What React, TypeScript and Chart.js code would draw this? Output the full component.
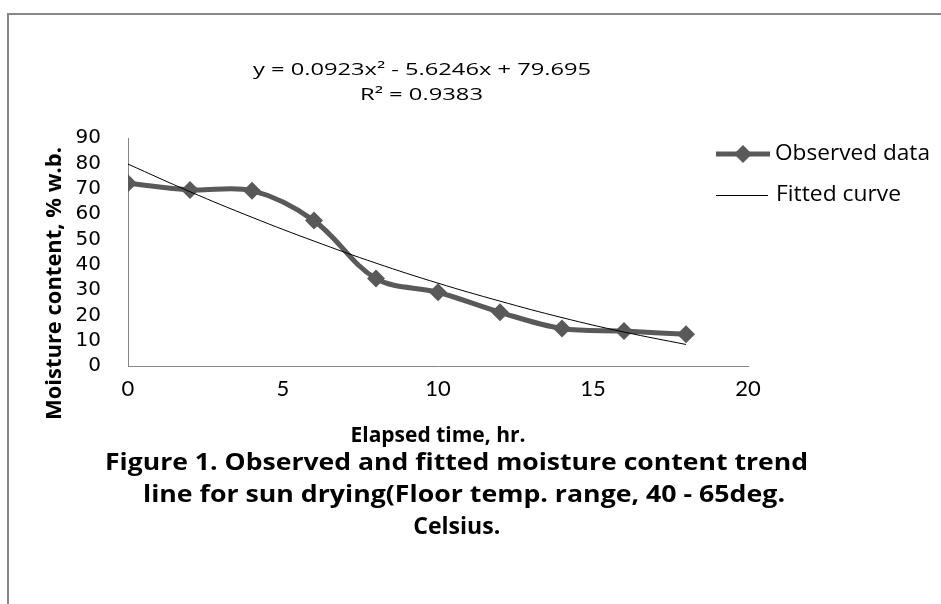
import React, { useEffect, useRef } from "react";
import { Chart, registerables } from "chart.js";

Chart.register(...registerables);

// ---- data ----
const elapsedHours = [0, 2, 4, 6, 8, 10, 12, 14, 16, 18];
const observedMoisture = [72.1, 69.5, 69.2, 57.4, 34.5, 29.1, 21.2, 14.8, 13.8, 12.5];
const fittedMoisture = [79.7, 68.8, 58.7, 49.3, 40.6, 32.7, 25.6, 19.1, 13.4, 8.5];
const xTickValues = [0, 5, 10, 15, 20];
const yTickValues = [0, 10, 20, 30, 40, 50, 60, 70, 80, 90];
const seriesNames = ["Observed data", "Fitted curve"];
const equationLines = ["y = 0.0923x\u00B2 - 5.6246x + 79.695", "R\u00B2 = 0.9383"];
const xAxisTitle = "Elapsed time, hr.";
const yAxisTitle = "Moisture content, % w.b.";
const captionLines = [
  "Figure 1. Observed and fitted moisture content trend",
  "line for sun drying(Floor temp. range, 40 - 65deg.",
  "Celsius.",
];

const OBS_COLOR = "#595959";
const FONT = "'Open Sans', Lato, sans-serif";

function fitText(
  ctx: CanvasRenderingContext2D,
  text: string,
  cx: number,
  cy: number,
  width: number,
  font: string,
  rotate = 0
) {
  ctx.save();
  ctx.font = font;
  const w = ctx.measureText(text).width || 1;
  ctx.translate(cx, cy);
  if (rotate) ctx.rotate(rotate);
  ctx.scale(width / w, 1);
  ctx.textAlign = "center";
  ctx.textBaseline = "middle";
  ctx.fillText(text, 0, 0);
  ctx.restore();
}

const overlayPlugin = {
  id: "overlay",
  afterDraw(chart: any) {
    const ctx = chart.ctx as CanvasRenderingContext2D;
    ctx.save();
    ctx.fillStyle = "#000";

    // trendline equation
    fitText(ctx, equationLines[0], 422, 70, 338, `16.5px ${FONT}`);
    fitText(ctx, equationLines[1], 421.5, 95, 123, `16.5px ${FONT}`);

    // legend
    ctx.strokeStyle = OBS_COLOR;
    ctx.lineWidth = 5;
    ctx.beginPath();
    ctx.moveTo(716, 154);
    ctx.lineTo(770, 154);
    ctx.stroke();
    ctx.fillStyle = OBS_COLOR;
    ctx.beginPath();
    ctx.moveTo(743, 145);
    ctx.lineTo(752, 154);
    ctx.lineTo(743, 163);
    ctx.lineTo(734, 154);
    ctx.closePath();
    ctx.fill();
    ctx.strokeStyle = "#000";
    ctx.lineWidth = 1;
    ctx.beginPath();
    ctx.moveTo(716, 195.5);
    ctx.lineTo(768, 195.5);
    ctx.stroke();
    ctx.fillStyle = "#000";
    fitText(ctx, seriesNames[0], 775 + 155 / 2, 154, 155, `22px ${FONT}`);
    fitText(ctx, seriesNames[1], 776 + 125 / 2, 195, 125, `22px ${FONT}`);

    // y axis title
    fitText(ctx, yAxisTitle, 55, 283.5, 273, `bold 21px ${FONT}`, -Math.PI / 2);

    // caption
    fitText(ctx, captionLines[0], 456.5, 463, 703, `bold 23px ${FONT}`);
    fitText(ctx, captionLines[1], 464, 495, 642, `bold 23px ${FONT}`);
    fitText(ctx, captionLines[2], 456.7, 527, 87, `bold 23px ${FONT}`);

    ctx.restore();
  },
};

export default function App() {
  const canvasRef = useRef<HTMLCanvasElement | null>(null);

  useEffect(() => {
    if (!canvasRef.current) return;
    const chart = new Chart(canvasRef.current, {
      type: "line",
      data: {
        datasets: [
          {
            label: seriesNames[0],
            data: elapsedHours.map((x, i) => ({ x, y: observedMoisture[i] })),
            borderColor: OBS_COLOR,
            backgroundColor: OBS_COLOR,
            borderWidth: 5,
            pointStyle: "rectRot",
            pointRadius: 9,
            pointBorderWidth: 0,
            pointBackgroundColor: OBS_COLOR,
            tension: 0.35,
            order: 2,
          },
          {
            label: seriesNames[1],
            data: elapsedHours.map((x, i) => ({ x, y: fittedMoisture[i] })),
            borderColor: "#000",
            backgroundColor: "#000",
            borderWidth: 1,
            pointRadius: 0,
            tension: 0.4,
            order: 1,
          },
        ],
      },
      options: {
        animation: false,
        responsive: false,
        maintainAspectRatio: false,
        layout: { padding: { left: 0, top: 138, right: 193, bottom: 155 } },
        plugins: {
          legend: { display: false },
          tooltip: { enabled: false },
          title: { display: false },
        },
        scales: {
          x: {
            type: "linear",
            min: 0,
            max: 20,
            afterBuildTicks: (scale: any) => {
              scale.ticks = xTickValues.map((v) => ({ value: v }));
            },
            afterFit: (scale: any) => {
              scale.height = 83;
            },
            grid: { display: false, drawTicks: false },
            border: { display: true, color: "#878787", width: 1 },
            ticks: {
              autoSkip: false,
              maxRotation: 0,
              padding: 10,
              color: "#000",
              font: { family: "Lato, sans-serif", size: 22 },
            },
            title: {
              display: true,
              text: xAxisTitle,
              color: "#000",
              font: { family: FONT, size: 21, weight: "bold" },
              padding: { top: 0, bottom: 0 },
            },
          },
          y: {
            type: "linear",
            min: 0,
            max: 90,
            afterBuildTicks: (scale: any) => {
              scale.ticks = yTickValues.map((v) => ({ value: v }));
            },
            afterFit: (scale: any) => {
              scale.width = 128;
            },
            grid: { display: false, drawTicks: false },
            border: { display: true, color: "#878787", width: 1 },
            ticks: {
              autoSkip: false,
              padding: 27,
              color: "#000",
              font: { family: "'DejaVu Sans', sans-serif", size: 20 },
            },
          },
        },
      },
      plugins: [overlayPlugin],
    });
    return () => chart.destroy();
  }, []);

  return (
    <div
      style={{
        position: "absolute",
        left: 0,
        top: 0,
        width: 941,
        height: 604,
        overflow: "hidden",
        background: "#fff",
      }}
    >
      <div
        style={{
          position: "absolute",
          left: 7,
          top: 13,
          width: 1200,
          height: 1000,
          borderLeft: "2px solid #888",
          borderTop: "2px solid #888",
        }}
      />
      <canvas
        ref={canvasRef}
        width={941}
        height={604}
        style={{ position: "absolute", left: 0, top: 0, width: 941, height: 604 }}
      />
    </div>
  );
}
